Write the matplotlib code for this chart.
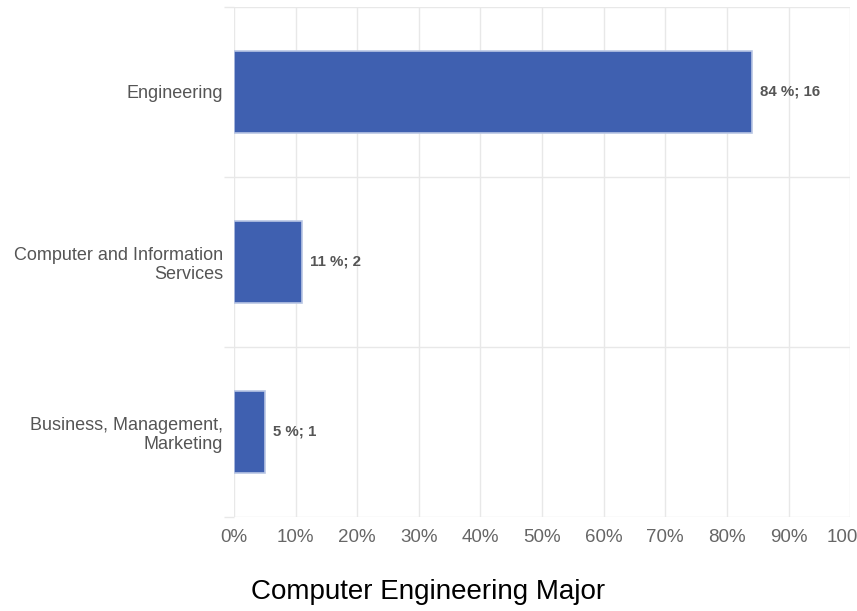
import matplotlib
matplotlib.use("Agg")
import matplotlib.pyplot as plt
from matplotlib.ticker import FixedLocator

# data
categories = ["Engineering", "Computer and Information\nServices", "Business, Management,\nMarketing"]
percents = [84, 11, 5]
counts = [16, 2, 1]
xticks = [0, 10, 20, 30, 40, 50, 60, 70, 80, 90, 100]
title = "Computer Engineering Major"

BAR, EDGE, GRID, TXT = "#3F60B0", "#B9C6E4", "#E8E8E8", "#555555"
plt.rcParams["font.family"] = ["Liberation Sans", "DejaVu Sans"]

fig = plt.figure(figsize=(8.57, 6.11), dpi=100)
ax = fig.add_axes([0.273, 0.154, 0.719, 0.835])

ypos = list(range(len(categories)))
ax.barh(ypos, percents, height=0.48, color=BAR, edgecolor=EDGE, linewidth=1.2, zorder=3)
for y, p, c in zip(ypos, percents, counts):
    ax.text(p + 1.3, y, f"{p} %; {c}", va="center", ha="left", fontsize=10.8,
            fontweight="bold", color=TXT)

ax.set_xlim(0, 100)
ax.set_ylim(len(categories) - 0.5, -0.5)
ax.set_xticks(xticks)
ax.set_xticklabels([f"{t}%" for t in xticks])
ax.set_yticks(ypos)
ax.set_yticklabels(categories, ha="right", linespacing=1.15)
ax.yaxis.set_minor_locator(FixedLocator([-0.5, 0.5, 1.5, 2.5]))

ax.grid(axis="x", color=GRID, linewidth=1.0, zorder=0)
ax.grid(axis="y", which="minor", color=GRID, linewidth=1.0, zorder=0)
ax.tick_params(axis="y", which="major", length=0, pad=8, labelsize=13, labelcolor=TXT)
ax.tick_params(axis="y", which="minor", length=7, color=GRID, width=1.0)
ax.tick_params(axis="x", length=0, pad=9, labelsize=13.5, labelcolor="#666666")
for s in ax.spines.values():
    s.set_visible(False)

fig.text(0.5, 0.01, title, ha="center", va="bottom", fontsize=20, color="black")

fig.savefig("out.png", dpi=100, facecolor="white")
